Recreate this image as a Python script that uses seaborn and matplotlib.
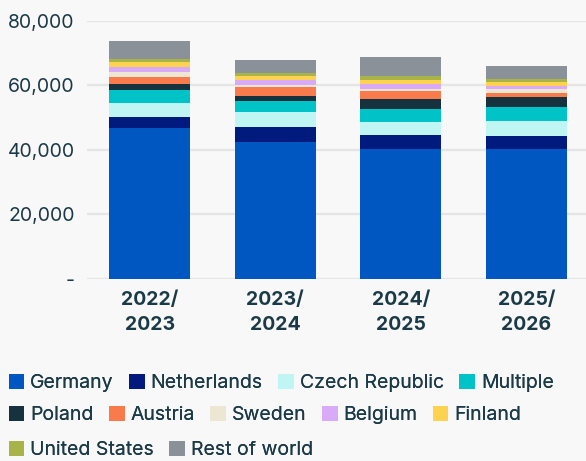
import matplotlib
matplotlib.use("Agg")
import matplotlib.pyplot as plt
import seaborn as sns
import numpy as np
import pandas as pd
from matplotlib.patches import Patch

seasons = ["2022/\n2023", "2023/\n2024", "2024/\n2025", "2025/\n2026"]
series = ["Germany", "Netherlands", "Czech Republic", "Multiple", "Poland", "Austria",
          "Sweden", "Belgium", "Finland", "United States", "Rest of world"]
germany = [46800, 42500, 40300, 40300]
netherlands = [3400, 4650, 4350, 4050]
czech = [4450, 4650, 4050, 4650]
multiple = [3850, 3400, 4050, 4350]
poland = [1850, 1550, 3100, 3100]
austria = [2150, 2900, 2500, 1250]
sweden = [1650, 550, 700, 1250]
belgium = [1450, 1550, 1550, 950]
finland = [1550, 1250, 1150, 1250]
united_states = [1050, 950, 1250, 950]
rest_of_world = [5500, 4000, 5900, 4000]

colors = ["#0057C2", "#001A7D", "#BFF5F3", "#00C3C8", "#15323E", "#F97A4A",
          "#EDE6D2", "#D8AAF7", "#FDD24F", "#A8B34A", "#8B9199"]

values = [germany, netherlands, czech, multiple, poland, austria, sweden,
          belgium, finland, united_states, rest_of_world]

text_color = "#1B3A47"
bg = "#F8F8F8"

sns.set_theme(style="white")
plt.rcParams["font.family"] = ["Inter", "DejaVu Sans"]

fig = plt.figure(figsize=(5.86, 4.61), dpi=100, facecolor=bg)
ax = fig.add_axes([0.1485, 0.3948, 0.8567, 0.5597])
ax.set_facecolor(bg)

cum = np.zeros(len(seasons))
cums = []
for v in values:
    cum = cum + np.array(v)
    cums.append(cum.copy())

for name, c, col in reversed(list(zip(series, cums, colors))):
    d = pd.DataFrame({"season": seasons, "value": c})
    sns.barplot(data=d, x="season", y="value", color=col, width=0.645,
                saturation=1, ax=ax, zorder=3, linewidth=0, edgecolor="none")

ax.set_xlim(-0.5, 3.5)
ax.set_ylim(0, 80000)
ax.set_yticks([0, 20000, 40000, 60000, 80000])
ax.set_yticklabels(["-", "20,000", "40,000", "60,000", "80,000"])
ax.yaxis.grid(True, color="#E5E5E5", linewidth=1.6, zorder=0)
ax.set_axisbelow(True)
for s in ax.spines.values():
    s.set_visible(False)
ax.tick_params(axis="y", length=0, pad=9, labelsize=14, labelcolor=text_color)
ax.tick_params(axis="x", length=0, pad=9, labelsize=14, labelcolor=text_color)
for lab in ax.get_xticklabels():
    lab.set_fontweight("bold")
    lab.set_linespacing(1.45)
ax.set_xlabel("")
ax.set_ylabel("")

rows = [(0, 4, 0.150), (4, 9, 0.080), (9, 11, 0.004)]
for a, b, y in rows:
    handles = [Patch(facecolor=colors[i], edgecolor="none", label=series[i]) for i in range(a, b)]
    leg = fig.legend(handles=handles, loc="lower left", bbox_to_anchor=(0.015, y),
                     ncol=b - a, frameon=False, fontsize=14,
                     handlelength=0.8, handleheight=0.8, handletextpad=0.3,
                     columnspacing=0.8, borderaxespad=0, borderpad=0)
    for t in leg.get_texts():
        t.set_color(text_color)
    fig.add_artist(leg)

fig.savefig("out.png", dpi=100, facecolor=bg)
